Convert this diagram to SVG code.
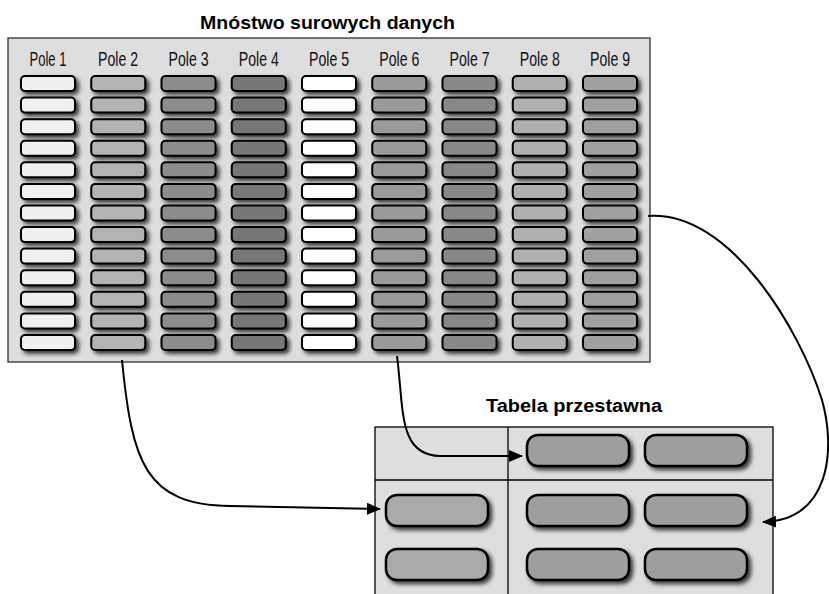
<svg xmlns="http://www.w3.org/2000/svg" xmlns:xlink="http://www.w3.org/1999/xlink" width="829" height="594" viewBox="0 0 829 594">
  <style>
    .panel { fill: #dedede; stroke: #222; stroke-width: 1.2; }
    .cell { stroke: #000; stroke-width: 2; }
    .big { stroke: #000; stroke-width: 2.5; }
    .title { font-family: "Liberation Sans", Arial, sans-serif; font-weight: bold; font-size: 18px; fill: #000; }
    .hdr { font-family: "Liberation Sans Narrow", "Liberation Sans", Arial, sans-serif; font-size: 21px; fill: #111; text-anchor: middle; }
    .conn { fill: none; stroke: #000; stroke-width: 2; }
    .div { stroke: #000; stroke-width: 1.3; }
    .c1 { fill: #f0f0f0; } .c2 { fill: #b3b3b3; } .c3 { fill: #8c8c8c; }
    .c4 { fill: #777777; } .c5 { fill: #ffffff; } .c6 { fill: #9a9a9a; }
    .c7 { fill: #888888; } .c8 { fill: #b0b0b0; } .c9 { fill: #a0a0a0; }
    .pa { fill: #a9a9a9; } .pb { fill: #9e9e9e; }
  </style>
  <defs>
    <filter id="sh" x="-20%" y="-40%" width="150%" height="200%">
      <feGaussianBlur in="SourceAlpha" stdDeviation="2"/>
      <feOffset dx="3" dy="3" result="b"/>
      <feComponentTransfer><feFuncA type="linear" slope="0.75"/></feComponentTransfer>
      <feMerge><feMergeNode/><feMergeNode in="SourceGraphic"/></feMerge>
    </filter>
    <rect id="c" width="54" height="15" rx="4" ry="4" class="cell" filter="url(#sh)"/>
    <rect id="p" width="102" height="31" rx="11" ry="11" class="big" filter="url(#sh)"/>
    <g id="col">
      <use xlink:href="#c" y="76"/><use xlink:href="#c" y="97.6"/><use xlink:href="#c" y="119.2"/>
      <use xlink:href="#c" y="140.7"/><use xlink:href="#c" y="162.3"/><use xlink:href="#c" y="183.9"/>
      <use xlink:href="#c" y="205.5"/><use xlink:href="#c" y="227.1"/><use xlink:href="#c" y="248.6"/>
      <use xlink:href="#c" y="270.2"/><use xlink:href="#c" y="291.8"/><use xlink:href="#c" y="313.4"/>
      <use xlink:href="#c" y="335"/>
    </g>
    <marker id="ah" markerWidth="14" markerHeight="12" refX="13" refY="6" orient="auto" markerUnits="userSpaceOnUse">
      <path d="M0,0 L14,6 L0,12 Z" fill="#000"/>
    </marker>
  </defs>

  <g id="raw-data">
    <text class="title" x="200" y="29" textLength="255" lengthAdjust="spacingAndGlyphs">Mnóstwo surowych danych</text>
    <rect class="panel" x="8" y="38" width="642" height="324"/>
    <text class="hdr" x="48" y="66" textLength="37" lengthAdjust="spacingAndGlyphs">Pole 1</text>
    <text class="hdr" x="118" y="66" textLength="40" lengthAdjust="spacingAndGlyphs">Pole 2</text>
    <text class="hdr" x="188.5" y="66" textLength="40" lengthAdjust="spacingAndGlyphs">Pole 3</text>
    <text class="hdr" x="258.75" y="66" textLength="40" lengthAdjust="spacingAndGlyphs">Pole 4</text>
    <text class="hdr" x="329" y="66" textLength="40" lengthAdjust="spacingAndGlyphs">Pole 5</text>
    <text class="hdr" x="399.25" y="66" textLength="40" lengthAdjust="spacingAndGlyphs">Pole 6</text>
    <text class="hdr" x="469.5" y="66" textLength="40" lengthAdjust="spacingAndGlyphs">Pole 7</text>
    <text class="hdr" x="539.75" y="66" textLength="40" lengthAdjust="spacingAndGlyphs">Pole 8</text>
    <text class="hdr" x="610" y="66" textLength="40" lengthAdjust="spacingAndGlyphs">Pole 9</text>
    <use xlink:href="#col" x="21" class="c1"/>
    <use xlink:href="#col" x="91.25" class="c2"/>
    <use xlink:href="#col" x="161.5" class="c3"/>
    <use xlink:href="#col" x="231.75" class="c4"/>
    <use xlink:href="#col" x="302" class="c5"/>
    <use xlink:href="#col" x="372.25" class="c6"/>
    <use xlink:href="#col" x="442.5" class="c7"/>
    <use xlink:href="#col" x="512.75" class="c8"/>
    <use xlink:href="#col" x="583" class="c9"/>
  </g>

  <g id="pivot-table">
    <text class="title" x="486" y="412" textLength="176" lengthAdjust="spacingAndGlyphs">Tabela przestawna</text>
    <rect class="panel" x="375" y="427" width="398" height="180" style="stroke:#000;stroke-width:1.3"/>
    <line class="div" x1="508" y1="427" x2="508" y2="600"/>
    <line class="div" x1="375" y1="480" x2="773" y2="480"/>
    <use xlink:href="#p" x="527" y="435" class="pb"/>
    <use xlink:href="#p" x="645" y="435" class="pb"/>
    <use xlink:href="#p" x="386" y="495" class="pa"/>
    <use xlink:href="#p" x="527" y="495" class="pb"/>
    <use xlink:href="#p" x="645" y="495" class="pb"/>
    <use xlink:href="#p" x="386" y="549" class="pa"/>
    <use xlink:href="#p" x="527" y="549" class="pb"/>
    <use xlink:href="#p" x="645" y="549" class="pb"/>
  </g>

  <g id="connectors">
    <path class="conn" d="M122,360 C132,462 145,505 230,506 L380,509" marker-end="url(#ah)"/>
    <path class="conn" d="M397,356 C404,410 398,455 440,456 L522,456" marker-end="url(#ah)"/>
    <path class="conn" d="M648,216 C730,210 800,330 822,400 C836,450 830,520 763,522" marker-end="url(#ah)"/>
  </g>
</svg>
